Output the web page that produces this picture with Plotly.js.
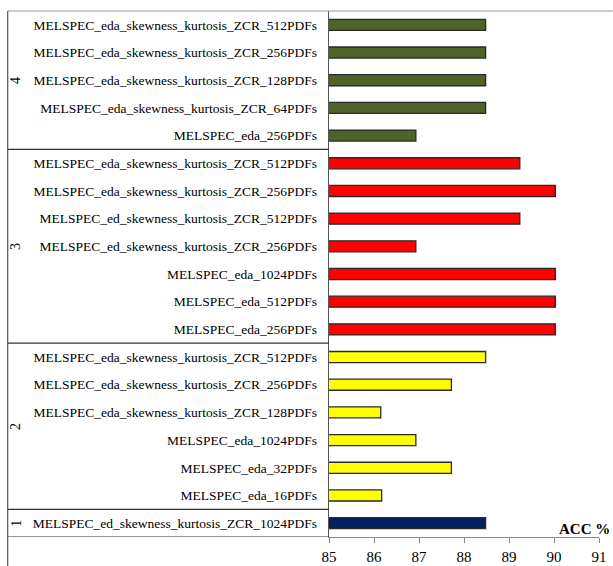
<!DOCTYPE html>
<html>
<head>
<meta charset="utf-8">
<script src="https://cdn.plot.ly/plotly-3.0.1.min.js"></script>
<style>html,body{margin:0;padding:0;background:#fff;}#chart{width:613px;height:566px;}</style>
</head>
<body>
<div id="chart"></div>
<script>
// Categories listed bottom to top
const labels = [
  "MELSPEC_ed_skewness_kurtosis_ZCR_1024PDFs",
  "MELSPEC_eda_16PDFs",
  "MELSPEC_eda_32PDFs",
  "MELSPEC_eda_1024PDFs",
  "MELSPEC_eda_skewness_kurtosis_ZCR_128PDFs",
  "MELSPEC_eda_skewness_kurtosis_ZCR_256PDFs",
  "MELSPEC_eda_skewness_kurtosis_ZCR_512PDFs",
  "MELSPEC_eda_256PDFs",
  "MELSPEC_eda_512PDFs",
  "MELSPEC_eda_1024PDFs",
  "MELSPEC_ed_skewness_kurtosis_ZCR_256PDFs",
  "MELSPEC_ed_skewness_kurtosis_ZCR_512PDFs",
  "MELSPEC_eda_skewness_kurtosis_ZCR_256PDFs",
  "MELSPEC_eda_skewness_kurtosis_ZCR_512PDFs",
  "MELSPEC_eda_256PDFs",
  "MELSPEC_eda_skewness_kurtosis_ZCR_64PDFs",
  "MELSPEC_eda_skewness_kurtosis_ZCR_128PDFs",
  "MELSPEC_eda_skewness_kurtosis_ZCR_256PDFs",
  "MELSPEC_eda_skewness_kurtosis_ZCR_512PDFs"
];
const groups = ["1", "2", "3", "4"];
const groupSizes = [1, 6, 7, 5];
const values = [
  88.48,
  86.17, 87.72, 86.93, 86.15, 87.72, 88.48,
  90.03, 90.03, 90.03, 86.93, 89.24, 90.03, 89.24,
  86.93, 88.48, 88.48, 88.48, 88.48
];
const groupColors = ["#002060", "#FFFF00", "#FF0000", "#4F6228"];

const FONT = "Liberation Serif, Times New Roman, serif";

// geometry (pixels)
const W = 613, H = 566, L = 329.3, R = 599.3, T = 11, B = 537;
const pw = R - L, ph = B - T;
const px = p => (p - L) / pw;          // pixel x -> paper x
const py = p => (B - p) / ph;          // pixel y -> paper y

const idx = labels.map((_, i) => i);
const colors = [];
groupSizes.forEach((n, g) => { for (let k = 0; k < n; k++) colors.push(groupColors[g]); });

const traces = [{
  type: "bar",
  orientation: "h",
  x: values,
  y: idx,
  base: 0,
  width: 0.4,
  marker: { color: colors, line: { color: "#2a2a2a", width: 1.3 } },
  hoverinfo: "x+text",
  text: labels,
  textposition: "none"
}];

const shapes = [];
const annotations = [];
// frame lines
shapes.push({ type: "line", xref: "paper", yref: "paper", x0: px(8), x1: px(613), y0: 1, y1: 1, line: { color: "#999999", width: 1.2 } });
shapes.push({ type: "line", xref: "paper", yref: "paper", x0: px(8), x1: px(8), y0: 1, y1: py(566), line: { color: "#555555", width: 1.2 } });
// group separators and labels
let start = 0;
groupSizes.forEach((n, g) => {
  const lo = start - 0.5, hi = start + n - 0.5;
  shapes.push({ type: "line", xref: "paper", yref: "y", x0: px(8), x1: 0, y0: lo, y1: lo, line: { color: "#333333", width: 1.2 } });
  annotations.push({
    xref: "paper", yref: "y", x: px(16), xanchor: "center", y: (lo + hi) / 2,
    text: groups[g], showarrow: false, textangle: -90,
    font: { family: FONT, size: 14, color: "#000" }
  });
  start += n;
});
annotations.push({
  xref: "paper", yref: "paper", x: px(612), y: py(529), xanchor: "right", yanchor: "middle",
  text: "<b>ACC %</b>", showarrow: false,
  font: { family: FONT, size: 15, color: "#000" }
});

const layout = {
  width: W, height: H,
  margin: { l: L, r: W - R, t: T, b: H - B, pad: 0 },
  paper_bgcolor: "#ffffff", plot_bgcolor: "#ffffff",
  showlegend: false,
  bargap: 0.6,
  font: { family: FONT, color: "#000" },
  xaxis: {
    range: [85, 91], tickmode: "linear", tick0: 85, dtick: 1,
    showgrid: false, zeroline: false, showline: true, linecolor: "#888888", linewidth: 1,
    ticks: "outside", ticklen: 5, tickcolor: "#888888", ticklabelstandoff: 1,
    tickfont: { size: 15, family: FONT, color: "#000" }
  },
  yaxis: {
    range: [-0.5, labels.length - 0.5],
    tickmode: "array", tickvals: idx, ticktext: labels,
    showgrid: false, zeroline: false, showline: true, linecolor: "#555555", linewidth: 1.2,
    ticks: "", ticklabelstandoff: 8,
    tickfont: { size: 13.5, family: FONT, color: "#000" }
  },
  shapes: shapes,
  annotations: annotations
};

Plotly.newPlot("chart", traces, layout, { displayModeBar: false, staticPlot: true });
</script>
</body>
</html>
